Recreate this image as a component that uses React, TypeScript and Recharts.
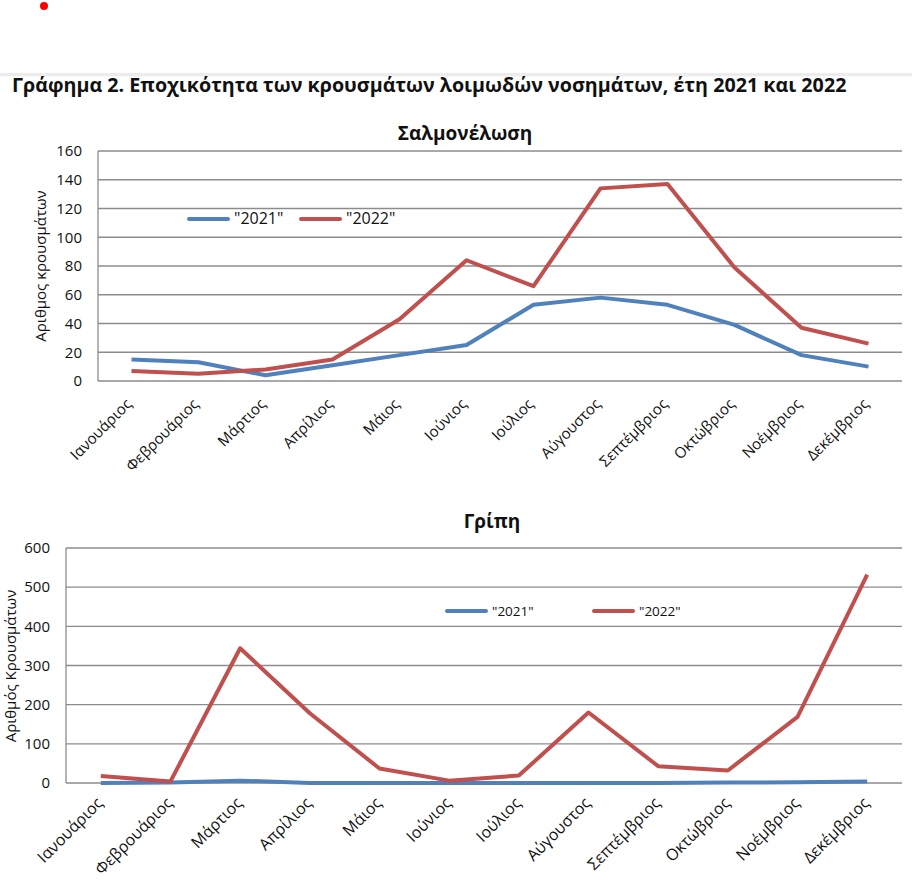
import { LineChart, Line, XAxis, YAxis, CartesianGrid, Legend } from 'recharts'

const months = [
  'Ιανουάριος',
  'Φεβρουάριος',
  'Μάρτιος',
  'Απρίλιος',
  'Μάιος',
  'Ιούνιος',
  'Ιούλιος',
  'Αύγουστος',
  'Σεπτέμβριος',
  'Οκτώβριος',
  'Νοέμβριος',
  'Δεκέμβριος',
]

// Σαλμονέλωση
const salm2021 = [15, 13, 4, 11, 18, 25, 53, 58, 53, 39, 18, 10]
const salm2022 = [7, 5, 8, 15, 43, 84, 66, 134, 137, 79, 37, 26]
const salmTicks = [0, 20, 40, 60, 80, 100, 120, 140, 160]

// Γρίπη
const flu2021 = [0, 1, 6, 0, 0, 0, 0, 0, 0, 1, 2, 4]
const flu2022 = [18, 4, 344, 178, 37, 6, 19, 180, 43, 32, 169, 532]
const fluTicks = [0, 100, 200, 300, 400, 500, 600]

const BLUE = '#4F81BD'
const RED = '#C0504D'
const GRID = '#8c8c8c'
const FONT = '"Open Sans", sans-serif'

const salmData = months.map((m, i) => ({ month: m, y2021: salm2021[i], y2022: salm2022[i] }))
const fluData = months.map((m, i) => ({ month: m, y2021: flu2021[i], y2022: flu2022[i] }))

function MonthTick(props: any) {
  const { x, y, payload, dx, dy, fontSize } = props
  return (
    <g transform={`translate(${x + dx},${y + dy})`}>
      <text textAnchor="end" transform="rotate(-45)" fontSize={fontSize} fill="#111" fontFamily={FONT}>
        {payload.value}
      </text>
    </g>
  )
}

function LegendBox({ payload, itemWidth, fontSize }: any) {
  return (
    <div style={{ display: 'flex', alignItems: 'center', fontFamily: FONT }}>
      {(payload || []).map((p: any) => (
        <div key={p.value} style={{ display: 'flex', alignItems: 'center', width: itemWidth }}>
          <span
            style={{ display: 'inline-block', width: 43, height: 4, borderRadius: 2, background: p.color, marginRight: 4 }}
          />
          <span style={{ fontSize, color: '#111', lineHeight: 1.2 }}>{p.value}</span>
        </div>
      ))}
    </div>
  )
}

function YTitle({ x, y, text }: { x: number; y: number; text: string }) {
  return (
    <text
      x={x}
      y={y}
      transform={`rotate(-90 ${x} ${y})`}
      textAnchor="middle"
      dominantBaseline="central"
      fontSize={15}
      fontFamily={FONT}
      fill="#111"
    >
      {text}
    </text>
  )
}

export default function App() {
  return (
    <div style={{ position: 'relative', width: 912, height: 880, background: '#fff', fontFamily: FONT, overflow: 'hidden' }}>
      <style>{'body{margin:0}'}</style>
      <div style={{ position: 'absolute', left: 40, top: 2, width: 8, height: 8, borderRadius: '50%', background: '#f00' }} />
      <div style={{ position: 'absolute', left: 0, top: 73, width: 912, height: 2, background: '#ececec', boxShadow: '0 1px 2px #e4e4e4' }} />
      <div style={{ position: 'absolute', left: 12, top: 75, fontSize: 19.7, fontWeight: 700, lineHeight: '20px', color: '#111', whiteSpace: 'nowrap' }}>
        Γράφημα 2. Εποχικότητα των κρουσμάτων λοιμωδών νοσημάτων, έτη 2021 και 2022
      </div>

      <div style={{ position: 'absolute', left: 0, top: 124, width: 930, textAlign: 'center', fontSize: 19, fontWeight: 700, lineHeight: '19px', color: '#111' }}>
        Σαλμονέλωση
      </div>
      <div style={{ position: 'absolute', left: 0, top: 110 }}>
        <LineChart width={912} height={370} data={salmData} margin={{ top: 41, right: 10, left: 0, bottom: 40 }}>
          <CartesianGrid vertical={false} stroke={GRID} strokeWidth={1.3} />
          <XAxis
            dataKey="month"
            interval={0}
            height={59}
            axisLine={false}
            tickLine={false}
            tickSize={0}
            tickMargin={0}
            padding={{ left: 33.5, right: 33.5 }}
            tick={<MonthTick dx={1} dy={24} fontSize={15} />}
          />
          <YAxis
            domain={[0, 160]}
            ticks={salmTicks}
            width={98}
            axisLine={{ stroke: GRID, strokeWidth: 1.3 }}
            tickLine={false}
            tickSize={0}
            tickMargin={16}
            tick={{ fill: '#111', fontSize: 15, fontFamily: FONT }}
            label={{ content: () => <YTitle x={40} y={156} text="Αριθμος κρουσμάτων" /> }}
          />
          <Legend
            layout="horizontal"
            verticalAlign="middle"
            align="center"
            wrapperStyle={{ left: 187, top: 99, width: 'auto' }}
            content={<LegendBox itemWidth={112} fontSize={16} />}
          />
          <Line type="linear" dataKey="y2021" name={'"2021"'} stroke={BLUE} strokeWidth={4} strokeLinejoin="round" dot={false} isAnimationActive={false} />
          <Line type="linear" dataKey="y2022" name={'"2022"'} stroke={RED} strokeWidth={4} strokeLinejoin="round" dot={false} isAnimationActive={false} />
        </LineChart>
      </div>

      <div style={{ position: 'absolute', left: 0, top: 512, width: 984, textAlign: 'center', fontSize: 19, fontWeight: 700, lineHeight: '19px', color: '#111' }}>
        Γρίπη
      </div>
      <div style={{ position: 'absolute', left: 0, top: 500 }}>
        <LineChart width={912} height={380} data={fluData} margin={{ top: 48, right: 10, left: 0, bottom: 0 }}>
          <CartesianGrid vertical={false} stroke={GRID} strokeWidth={1.3} />
          <XAxis
            dataKey="month"
            interval={0}
            height={97}
            axisLine={false}
            tickLine={false}
            tickSize={0}
            tickMargin={0}
            padding={{ left: 34.8, right: 34.8 }}
            tick={<MonthTick dx={3} dy={21} fontSize={16} />}
          />
          <YAxis
            domain={[0, 600]}
            ticks={fluTicks}
            width={66}
            axisLine={{ stroke: GRID, strokeWidth: 1.3 }}
            tickLine={false}
            tickSize={0}
            tickMargin={16}
            tick={{ fill: '#111', fontSize: 15, fontFamily: FONT }}
            label={{ content: () => <YTitle x={10} y={166} text="Αριθμός Κρουσμάτων" /> }}
          />
          <Legend
            layout="horizontal"
            verticalAlign="middle"
            align="center"
            wrapperStyle={{ left: 445, top: 103, width: 'auto' }}
            content={<LegendBox itemWidth={147} fontSize={13.5} />}
          />
          <Line type="linear" dataKey="y2021" name={'"2021"'} stroke={BLUE} strokeWidth={4} strokeLinejoin="round" dot={false} isAnimationActive={false} />
          <Line type="linear" dataKey="y2022" name={'"2022"'} stroke={RED} strokeWidth={4} strokeLinejoin="round" dot={false} isAnimationActive={false} />
        </LineChart>
      </div>
    </div>
  )
}
